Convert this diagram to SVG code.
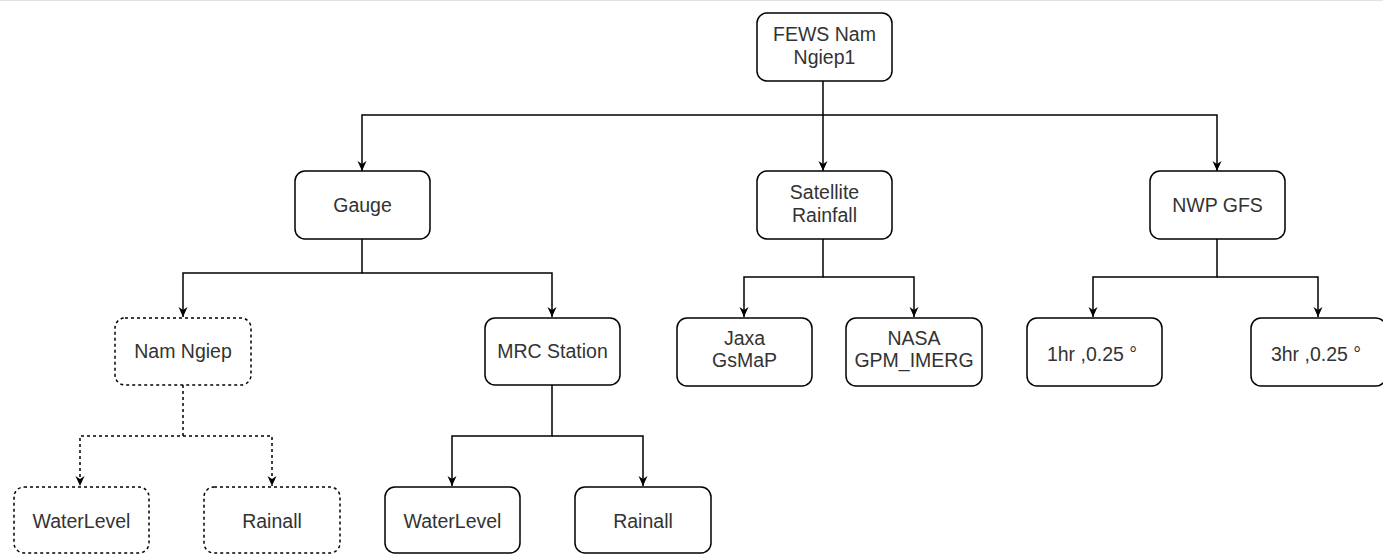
<svg xmlns="http://www.w3.org/2000/svg" width="1383" height="555" viewBox="0 0 1383 555">
<style>
.box{fill:#fff;stroke:#000;stroke-width:1.5}
.dash{fill:#fff;stroke:#000;stroke-width:1.5;stroke-dasharray:3 3}
.lbl{font-family:"Liberation Sans",Arial,sans-serif;font-size:19.5px;fill:#333;text-anchor:middle}
.con{fill:none;stroke:#000;stroke-width:1.5}
.dcon{fill:none;stroke:#000;stroke-width:1.5;stroke-dasharray:3 3}
</style>
<defs>
<marker id="arr" markerUnits="userSpaceOnUse" markerWidth="10" markerHeight="10" viewBox="0 0 10 10" refX="10" refY="5" orient="auto">
<path d="M0,0.5 L10,5 L0,9.5 L3,5 z" fill="#000"/>
</marker>
</defs>
<rect width="1383" height="555" fill="#fff"/>
<line x1="0" y1="0.5" x2="1383" y2="0.5" stroke="#e3e3e3" stroke-width="1"/>
<g id="connectors">
<path class="con" d="M823,81 V171" marker-end="url(#arr)"/>
<path class="con" d="M823,115 H362 V171" marker-end="url(#arr)"/>
<path class="con" d="M823,115 H1217 V171" marker-end="url(#arr)"/>
<path class="con" d="M362,239 V273 H183 V317" marker-end="url(#arr)"/>
<path class="con" d="M362,273 H552 V317" marker-end="url(#arr)"/>
<path class="con" d="M823,239 V277 H744 V317" marker-end="url(#arr)"/>
<path class="con" d="M823,277 H914 V317" marker-end="url(#arr)"/>
<path class="con" d="M1217,239 V277 H1093 V317" marker-end="url(#arr)"/>
<path class="con" d="M1217,277 H1318 V317" marker-end="url(#arr)"/>
<path class="dcon" d="M183,385 V436 H80 V486" marker-end="url(#arr)"/>
<path class="dcon" d="M183,436 H272 V486" marker-end="url(#arr)"/>
<path class="con" d="M552,385 V436 H452 V486" marker-end="url(#arr)"/>
<path class="con" d="M552,436 H643 V486" marker-end="url(#arr)"/>
</g>
<g id="fews"><rect class="box" x="757" y="13" width="135" height="68" rx="10"/><text class="lbl" x="824.5" y="41">FEWS Nam</text><text class="lbl" x="824.5" y="63.5">Ngiep1</text></g>
<g id="gauge"><rect class="box" x="295" y="171" width="135" height="68" rx="10"/><text class="lbl" x="362.5" y="212">Gauge</text></g>
<g id="satellite"><rect class="box" x="757" y="171" width="135" height="68" rx="10"/><text class="lbl" x="824.5" y="199">Satellite</text><text class="lbl" x="824.5" y="221.5">Rainfall</text></g>
<g id="nwp"><rect class="box" x="1150" y="171" width="135" height="68" rx="10"/><text class="lbl" x="1217.5" y="212">NWP GFS</text></g>
<g id="namngiep"><rect class="dash" x="115" y="318" width="136" height="67" rx="10"/><text class="lbl" x="183" y="358">Nam Ngiep</text></g>
<g id="mrc"><rect class="box" x="485" y="318" width="135" height="67" rx="10"/><text class="lbl" x="552.5" y="358">MRC Station</text></g>
<g id="jaxa"><rect class="box" x="677" y="318" width="135" height="68" rx="10"/><text class="lbl" x="744.5" y="345">Jaxa</text><text class="lbl" x="744.5" y="367">GsMaP</text></g>
<g id="nasa"><rect class="box" x="846" y="318" width="136" height="68" rx="10"/><text class="lbl" x="914" y="345">NASA</text><text class="lbl" x="914" y="367">GPM_IMERG</text></g>
<g id="hr1"><rect class="box" x="1027" y="318" width="135" height="68" rx="10"/><text class="lbl" x="1092" y="361">1hr ,0.25 °</text></g>
<g id="hr3"><rect class="box" x="1251" y="318" width="135" height="68" rx="10"/><text class="lbl" x="1316" y="361">3hr ,0.25 °</text></g>
<g id="wl1"><rect class="dash" x="14" y="487" width="135" height="66" rx="10"/><text class="lbl" x="81.5" y="528">WaterLevel</text></g>
<g id="rain1"><rect class="dash" x="204" y="487" width="136" height="66" rx="10"/><text class="lbl" x="272" y="528">Rainall</text></g>
<g id="wl2"><rect class="box" x="385" y="487" width="135" height="66" rx="10"/><text class="lbl" x="452.5" y="528">WaterLevel</text></g>
<g id="rain2"><rect class="box" x="575" y="487" width="136" height="66" rx="10"/><text class="lbl" x="643" y="528">Rainall</text></g>
</svg>
